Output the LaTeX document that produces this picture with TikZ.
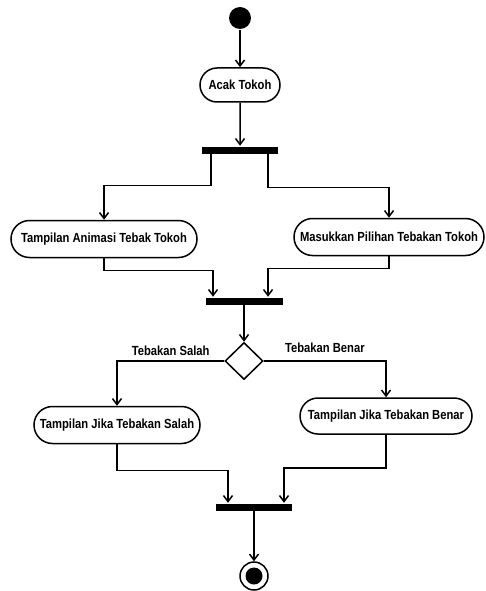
\documentclass[tikz,border=0pt]{standalone}
\usepackage{fontspec}
\newfontfamily\diafont[FakeStretch=0.85]{Liberation Sans}
\usepackage{tikz}
\usetikzlibrary{arrows.meta,positioning,shapes.geometric,shapes.misc,calc}

\begin{document}
\begin{tikzpicture}[x=1pt, y=-1pt, >={Straight Barb[length=6pt,width=9pt]}, line width=1.5pt,
    act/.style={rounded rectangle, draw, line width=1.5pt, minimum height=37pt, inner xsep=2pt, font=\diafont\bfseries\fontsize{13.2}{15}\selectfont},
    bar/.style={rectangle, fill=black, inner sep=0pt, minimum height=7pt},
    lbl/.style={font=\diafont\bfseries\fontsize{13.2}{15}\selectfont}]
    \useasboundingbox (0,0) rectangle (486,591);

    \node[circle, fill=black, minimum size=22pt, inner sep=0pt] (start) at (240,18) {};
    \node[act, minimum width=84pt, minimum height=34pt] (acak) at (240,85) {Acak Tokoh};
    \node[bar, minimum width=76pt] (fork1) at (240,150) {};

    % cabang pertama
    \node[act, minimum width=190pt] (animasi) at (104,239) {Tampilan Animasi Tebak Tokoh};
    \node[act, minimum width=194pt] (masukkan) at (389,237) {Masukkan Pilihan Tebakan Tokoh};
    \node[bar, minimum width=77pt] (join1) at (244,301) {};

    % keputusan
    \node[diamond, draw, line width=1.5pt, minimum width=38pt, minimum height=37pt, inner sep=0pt] (cek) at (244,361) {};
    \node[act, minimum width=170pt] (salah) at (117,425) {Tampilan Jika Tebakan Salah};
    \node[act, minimum width=176pt, minimum height=36pt] (benar) at (386,416) {Tampilan Jika Tebakan Benar};
    \node[bar, minimum width=76pt] (join2) at (254,507) {};

    \node[circle, draw, line width=1.5pt, minimum size=28pt, inner sep=0pt] (stop) at (254,576) {};
    \node[circle, fill=black, minimum size=17pt, inner sep=0pt] (stopin) at (254,576) {};

    \draw[->] (start) -- (acak);
    \draw[->] (acak) -- (fork1);
    \draw[->] ([xshift=-29pt]fork1.south) -- ++(0,31) -| (animasi);
    \draw[->] ([xshift=28pt]fork1.south) -- ++(0,33) -| (masukkan);
    \draw[->] (animasi.south) -- ++(0,12) -| ([xshift=-31pt]join1.north);
    \draw[->] (masukkan.south) -- ++(0,12) -| ([xshift=24pt]join1.north);
    \draw[->] (join1) -- (cek);
    \draw[->] (cek.west) -| node[lbl, above=1pt, pos=0.25] {Tebakan Salah} (salah);
    \draw[->] (cek.east) -| node[lbl, above=4pt, pos=0.25] {Tebakan Benar} (benar);
    \draw[->] (salah.south) -- ++(0,26) -| ([xshift=-26pt]join2.north);
    \draw[->] (benar.south) -- ++(0,33) -| ([xshift=30pt]join2.north);
    \draw[->] (join2) -- (stop);
\end{tikzpicture}
\end{document}
